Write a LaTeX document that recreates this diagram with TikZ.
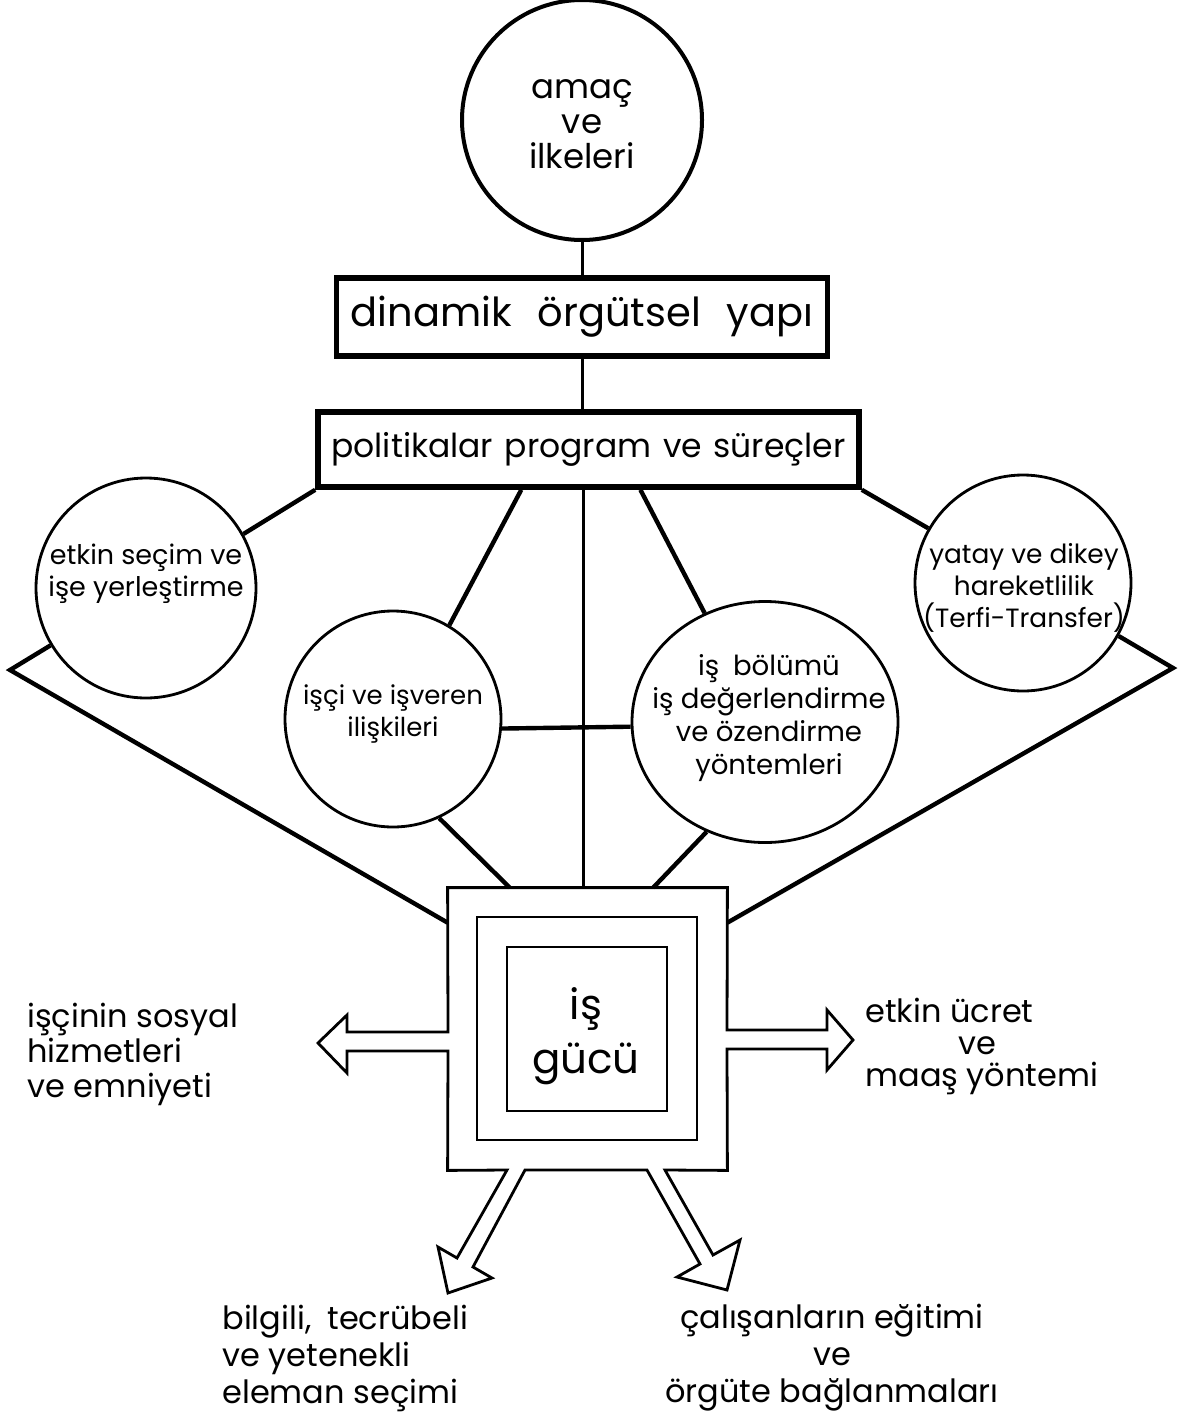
\documentclass[tikz,border=0pt]{standalone}
\usepackage{fontspec}
\setmainfont{Poppins}
\usetikzlibrary{shapes.geometric,calc}
\begin{document}
\begin{tikzpicture}[x=0.5pt,y=-0.5pt,
  conn/.style={line width=2.2pt},
  connthin/.style={line width=1.5pt},
  circ/.style={circle,draw,line width=1.4pt,inner sep=0pt},
  boxnode/.style={draw,line width=2.8pt,inner sep=0pt},
  ctext/.style={align=center,inner sep=0pt,font=\fontsize{13.5}{16}\selectfont},
  lbl/.style={inner sep=0pt,font=\fontsize{16}{18.5}\selectfont},
  sq/.style={draw,line width=1.4pt,inner sep=0pt}]
\fill[white] (0,0) rectangle (1188,1424);
\useasboundingbox (0,0) rectangle (1188,1424);

% top
\node[circ,line width=2pt,minimum size=120pt] (T) at (582,120) {};
\node[ctext,font=\fontsize{17}{17.5}\selectfont] (Tt) at (582,124) {amaç\\ve\\ilkeleri};
\node[boxnode,minimum width=245.5pt,minimum height=39pt,font=\fontsize{20}{22}\selectfont] (D) at (582,317) {dinamik\hspace{0.65em}örgütsel\hspace{0.65em}yapı};
\node[boxnode,minimum width=270.5pt,minimum height=37.5pt,font=\fontsize{16.5}{20}\selectfont] (P) at (588.5,449.5) {politikalar\hspace{0.35em}program\hspace{0.35em}ve\hspace{0.35em}süreçler};

% circles
\node[circ,minimum size=110pt] (L) at (146,588) {};
\node[ctext] (Lt) at (146,574) {etkin seçim ve\\işe yerleştirme};
\node[circ,minimum size=108pt] (I) at (393,719) {};
\node[ctext,font=\fontsize{13}{16}\selectfont] (It) at (393,714) {işçi ve işveren\\ilişkileri};
\node[ellipse,draw,line width=1.4pt,inner sep=0pt,minimum width=133pt,minimum height=120.5pt] (B) at (765,722) {};
\node[ctext,font=\fontsize{13.8}{16.5}\selectfont] (Bt) at (769,718) {iş\hspace{0.5em}bölümü\\iş değerlendirme\\ve özendirme\\yöntemleri};
\node[circ,minimum size=108pt] (Y) at (1023,583) {};
\node[ctext,font=\fontsize{13.2}{16}\selectfont] (Yt) at (1024,588) {yatay ve dikey\\hareketlilik\\(Terfi-Transfer)};

% is gucu
\node[inner sep=0pt,minimum width=139.5pt,minimum height=141pt] (O) at (587.5,1029) {};
\node[sq,minimum width=110pt,minimum height=111.5pt] (M) at (587,1028.5) {};
\node[sq,minimum width=80pt,minimum height=82pt] (G) at (587,1029) {};
\node[align=center,inner sep=0pt,font=\fontsize{21}{27}\selectfont] (Gt) at (586,1036) {iş\\gücü};
\draw[sq] (O.north west) -- (O.north east) -- (727,1030) -- (827,1030) -- (827,1010) -- (853,1040) -- (827,1070) -- (827,1049) -- (727,1049) -- (O.south east)
  -- (665,1170) -- (713,1255) -- (740,1240) -- (727,1290) -- (677,1277) -- (700,1264) -- (647,1170)
  -- (525,1170) -- (473,1267) -- (492,1278) -- (448,1293) -- (438,1247) -- (457,1258) -- (507,1170)
  -- (O.south west) -- (448,1051) -- (347,1051) -- (347,1073) -- (318,1043) -- (347,1015) -- (347,1032) -- (448,1032) -- cycle;

% coordinates
\coordinate (pA) at ($(P.south west)!0.377!(P.south east)$);
\coordinate (pC) at ($(P.south west)!0.4917!(P.south east)$);
\coordinate (pB) at ($(P.south west)!0.595!(P.south east)$);
\coordinate (oA) at ($(O.north west)!0.222!(O.north east)$);
\coordinate (oB) at ($(O.north west)!0.735!(O.north east)$);
\coordinate (oL) at ($(O.north west)!0.124!(O.south west)$);
\coordinate (oR) at ($(O.north east)!0.124!(O.south east)$);
\coordinate (VL) at (10,670);
\coordinate (VR) at (1173,668);

% connectors
\draw[connthin] (T.south) -- (D.north);
\draw[connthin] (D.south) -- (D.south |- P.north);
\draw[conn] (P.south west) -- (L.29);
\draw[conn] (pA) -- (I.59);
\draw[connthin] (pC) -- (pC |- O.north);
\draw[conn] (pB) -- (B.119);
\draw[conn] (P.south east) -- (Y.150);
\draw[conn] (L.211) -- (VL) -- (oL);
\draw[conn] (Y.-29) -- (VR) -- (oR);
\draw[conn] (I.-65) -- (oA);
\draw[conn] (B.-118) -- (oB);
\draw[conn] (I.-5) -- (B.182);

% outer labels
\node[lbl,font=\fontsize{16}{17.5}\selectfont,align=left,anchor=west] (SL) at (27,1054) {işçinin sosyal\\hizmetleri\\ve emniyeti};
\node[lbl,font=\fontsize{16}{16}\selectfont,align=left,anchor=west] (SR) at (865,1046) {etkin ücret\\\hspace*{2.9em}ve\\maaş yöntemi};
\node[lbl,align=left,anchor=west] (BL) at (222,1358) {bilgili,\hspace{0.5em}tecrübeli\\ve yetenekli\\eleman seçimi};
\node[lbl,align=center] (BR) at (832,1358) {çalışanların eğitimi\\ve\\örgüte bağlanmaları};
\end{tikzpicture}
\end{document}
